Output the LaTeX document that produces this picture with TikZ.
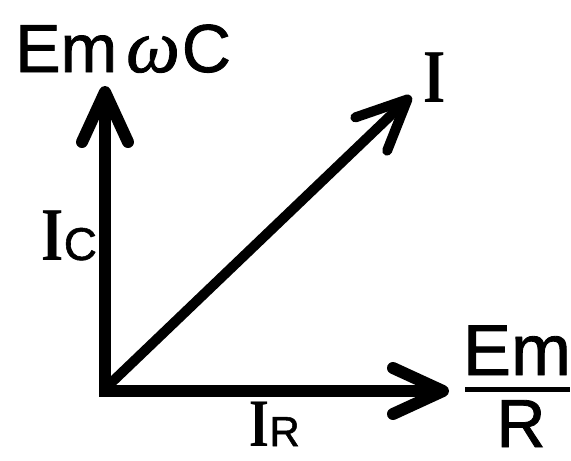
\documentclass[tikz,border=0pt]{standalone}
\usepackage{fontspec}
\setmainfont[FakeBold=1.2]{Liberation Sans}
\newfontfamily\serifI[FakeStretch=0.75]{Liberation Serif}
\newfontfamily\greekit[FakeBold=1.2]{Liberation Serif}
\usetikzlibrary{arrows.meta}
\tikzset{mybarb/.tip={Straight Barb[round,length=50pt,width=46pt]}}
\begin{document}
\begin{tikzpicture}[x=1pt,y=-1pt,
  axis/.style={line width=12pt,line join=miter,mybarb-mybarb},
  vec/.style={line width=10pt,line cap=round,-mybarb},
  lbl/.style={inner sep=0pt,anchor=base west},
  big/.style={font=\fontsize{68}{76}\selectfont},
  sub/.style={font=\fontsize{46}{52}\selectfont},
  romI/.style={font=\serifI\bfseries\fontsize{76}{84}\selectfont}]
\useasboundingbox (0,0) rectangle (571,461);
\coordinate (Ytop) at (105,86);
\coordinate (O) at (105,391);
\coordinate (Xend) at (449,391);
\coordinate (D0) at (111,383);
\coordinate (Dend) at (411,96);
\draw[axis] (Ytop) -- (O) -- (Xend);
\draw[vec] (D0) -- (Dend);
% labels
\node[lbl,big] (emwc) at (15,72) {Em\kern9pt{\greekit\itshape\fontsize{76}{80}\selectfont ω}\kern2pt C};
\node[lbl,romI] (iI) at (423,102) {I};
\node[lbl,romI] (iC) at (41,260) {I};
\node[lbl,sub] (cC) at (iC.base east) {C};
\node[lbl,romI,font=\serifI\bfseries\fontsize{68}{76}\selectfont] (iR) at (249,446) {I};
\node[lbl,sub,font=\fontsize{42}{48}\selectfont] (rR) at (iR.base east) {R};
\node[inner sep=0pt,anchor=base,font=\fontsize{72}{76}\selectfont] (num) at (517,375) {Em};
\node[inner sep=0pt,anchor=base,font=\fontsize{68}{76}\selectfont] (den) at (521,447) {R};
\draw[line width=5pt] (465,389) -- (570,389);
\end{tikzpicture}
\end{document}
